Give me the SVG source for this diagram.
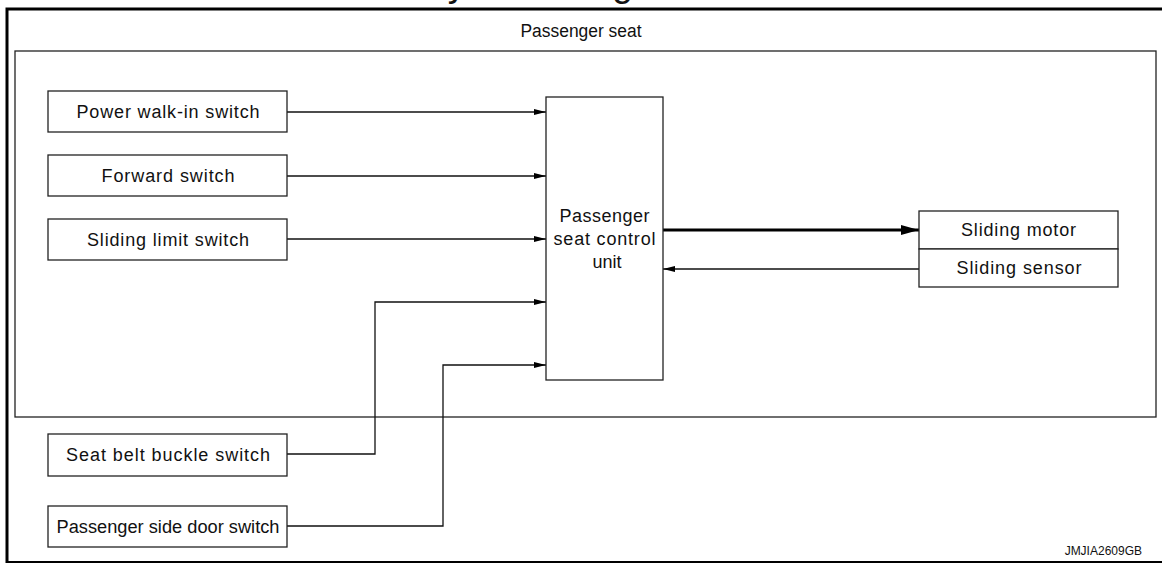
<svg xmlns="http://www.w3.org/2000/svg" width="1162" height="564" viewBox="0 0 1162 564">
<defs>
<style>
.frame{fill:none;stroke:#000;stroke-width:3}
.box{fill:#fff;stroke:#222;stroke-width:1.3}
.grp{fill:none;stroke:#222;stroke-width:1.3}
.wire{fill:none;stroke:#111;stroke-width:1.3}
.thick{fill:none;stroke:#000;stroke-width:3.2}
text{font-family:"Liberation Sans",Arial,Helvetica,sans-serif;font-size:18px;fill:#111;text-anchor:middle}
.title{font-size:37px;text-anchor:start}
.code{font-size:12px;text-anchor:end}
</style>
<marker id="arr" markerUnits="userSpaceOnUse" markerWidth="12" markerHeight="6" refX="12" refY="3" orient="auto">
<path d="M0,0 L12,3 L0,6 Z" fill="#000"/>
</marker>
<marker id="arrB" markerUnits="userSpaceOnUse" markerWidth="18" markerHeight="10" refX="18" refY="5" orient="auto">
<path d="M0,0 L18,5 L0,10 Z" fill="#000"/>
</marker>
</defs>
<text class="title" x="423" y="-4">System Diagram</text>
<g id="frame">
<path class="frame" d="M1162,9 H7 V563"/>
<line x1="6" y1="562" x2="1162" y2="562" stroke="#000" stroke-width="2"/>
<text class="code" x="1142" y="555">JMJIA2609GB</text>
</g>
<g id="passenger-seat">
<rect class="grp" x="15" y="51" width="1141" height="366"/>
<text x="581" y="37" textLength="121" lengthAdjust="spacingAndGlyphs">Passenger seat</text>
</g>
<g id="connectors">
<line class="wire" x1="287" y1="112" x2="546" y2="112" marker-end="url(#arr)"/>
<line class="wire" x1="287" y1="176" x2="546" y2="176" marker-end="url(#arr)"/>
<line class="wire" x1="287" y1="239" x2="546" y2="239" marker-end="url(#arr)"/>
<polyline class="wire" points="287,454 375,454 375,302 546,302" marker-end="url(#arr)"/>
<polyline class="wire" points="287,526 443,526 443,365 546,365" marker-end="url(#arr)"/>
<line class="thick" x1="663" y1="230" x2="919" y2="230" marker-end="url(#arrB)"/>
<line class="wire" x1="919" y1="269" x2="663" y2="269" marker-end="url(#arr)"/>
</g>
<g id="power-walk-in-switch">
<rect class="box" x="48" y="91" width="239" height="41"/>
<text x="168" y="118" textLength="183" lengthAdjust="spacing">Power walk-in switch</text>
</g>
<g id="forward-switch">
<rect class="box" x="48" y="155" width="239" height="41"/>
<text x="168" y="182" textLength="133" lengthAdjust="spacing">Forward switch</text>
</g>
<g id="sliding-limit-switch">
<rect class="box" x="48" y="219" width="239" height="41"/>
<text x="168" y="246" textLength="162" lengthAdjust="spacing">Sliding limit switch</text>
</g>
<g id="seat-belt-buckle-switch">
<rect class="box" x="48" y="434" width="239" height="42"/>
<text x="168" y="461" textLength="204" lengthAdjust="spacing">Seat belt buckle switch</text>
</g>
<g id="passenger-side-door-switch">
<rect class="box" x="48" y="506" width="239" height="41"/>
<text x="168" y="533" textLength="223" lengthAdjust="spacingAndGlyphs">Passenger side door switch</text>
</g>
<g id="control-unit">
<rect class="box" x="546" y="97" width="117" height="283"/>
<text x="604.5" y="222" textLength="90" lengthAdjust="spacing">Passenger</text>
<text x="604.5" y="245" textLength="102" lengthAdjust="spacing">seat control</text>
<text x="607" y="268">unit</text>
</g>
<g id="sliding-motor">
<rect class="box" x="919" y="211" width="199" height="38"/>
<text x="1018.5" y="236" textLength="115" lengthAdjust="spacing">Sliding motor</text>
</g>
<g id="sliding-sensor">
<rect class="box" x="919" y="249" width="199" height="38"/>
<text x="1019" y="274" textLength="125" lengthAdjust="spacing">Sliding sensor</text>
</g>
</svg>
